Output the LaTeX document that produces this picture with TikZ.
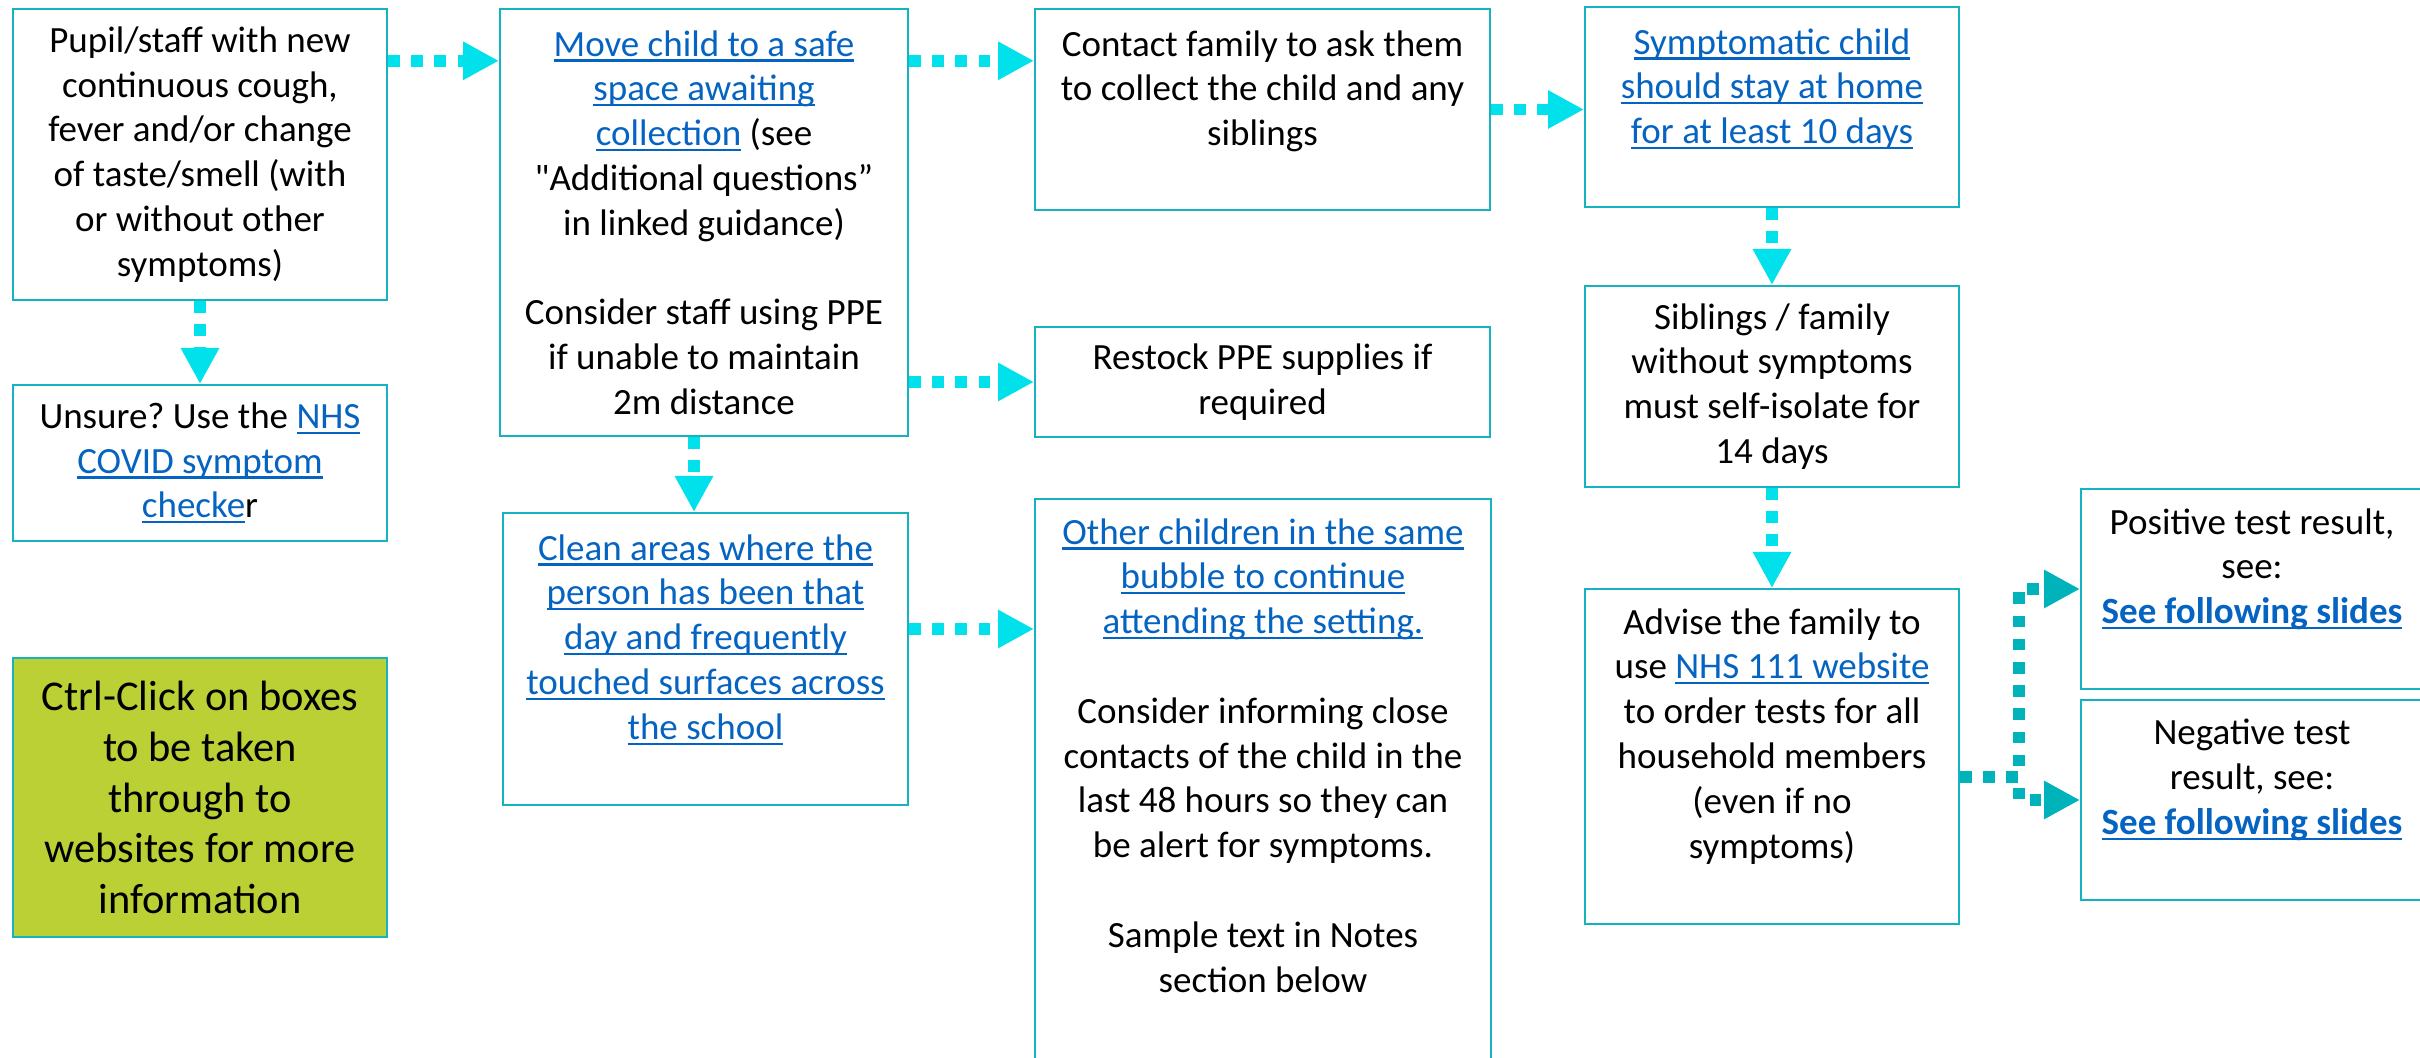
\documentclass[tikz,border=0pt]{standalone}
\usepackage{fontspec}
\setmainfont{Carlito}[Ligatures=TeXOff]
\usetikzlibrary{arrows.meta,positioning}
\definecolor{boxline}{RGB}{23,178,192}
\definecolor{arrowcyan}{RGB}{0,225,235}
\definecolor{arrowteal}{RGB}{0,178,186}
\definecolor{linkblue}{RGB}{5,99,193}
\definecolor{notegreen}{RGB}{187,208,52}
\newsavebox{\lnkbox}
\newcommand{\lnk}[1]{\sbox{\lnkbox}{#1}\textcolor{linkblue}{\rlap{\rule[-2.8pt]{\wd\lnkbox}{1.1pt}}#1}}
\frenchspacing

\begin{document}
\begin{tikzpicture}[x=0.5pt,y=-0.5pt,
    box/.style={draw=boxline,line width=1pt,anchor=north west,inner sep=0pt,align=center,
      font=\fontsize{18.5}{22.4}\selectfont},
    txt/.style={inner sep=0pt,align=center,font=\fontsize{18.5}{22.4}\selectfont},
    flow/.style={draw=arrowcyan,line width=5.8pt,dash pattern=on 5.8pt off 5.8pt,
      -{Triangle[length=18pt,width=18pt]}},
    flowdark/.style={flow,draw=arrowteal}]
  \useasboundingbox (0,0) rectangle (2420,1058);
  \clip (0,0) rectangle (2420,1058);

  % left column
  \node[box,minimum width=187pt,minimum height=145.5pt] (pupil) at (12,8)
    {Pupil/staff with new\\continuous cough,\\fever and/or change\\of taste/smell (with\\or without other\\symptoms)};
  \node[box,minimum width=187pt,minimum height=78pt] (unsure) at (12,384)
    {Unsure? Use the \lnk{NHS}\\\lnk{COVID symptom}\\\lnk{checke}r};
  \node[box,fill=notegreen,minimum width=187pt,minimum height=139.5pt,
    font=\fontsize{21.2}{25.3}\selectfont] (note) at (12,657)
    {Ctrl-Click on boxes\\to be taken\\through to\\websites for more\\information};

  % second column
  \node[box,minimum width=204pt,minimum height=213.5pt] (move) at (499,8)
    {\lnk{Move child to a safe}\\\lnk{space awaiting}\\\lnk{collection} (see\\"Additional questions”\\in linked guidance)\\~\\Consider staff using PPE\\if unable to maintain\\2m distance};
  \node[box,minimum width=202.5pt,minimum height=146pt] (clean) at (502,512) {};
  \node[txt,below=11pt of clean.north] (clean-t)
    {\lnk{Clean areas where the}\\\lnk{person has been that}\\\lnk{day and frequently}\\\lnk{touched surfaces across}\\\lnk{the school}};

  % third column
  \node[box,minimum width=227.5pt,minimum height=100.5pt] (contact) at (1034,8) {};
  \node[txt,below=11pt of contact.north] (contact-t)
    {Contact family to ask them\\to collect the child and any\\siblings};
  \node[box,minimum width=227.5pt,minimum height=55pt] (restock) at (1034,326)
    {Restock PPE supplies if\\required};
  \node[box,minimum width=228pt,minimum height=290pt] (other) at (1034,498) {};
  \node[txt,below=10pt of other.north] (other-t)
    {\lnk{Other children in the same}\\\lnk{bubble to continue}\\\lnk{attending the setting.}\\~\\Consider informing close\\contacts of the child in the\\last 48 hours so they can\\be alert for symptoms.\\~\\Sample text in Notes\\section below};

  % fourth column
  \node[box,minimum width=187pt,minimum height=100pt] (symptomatic) at (1584,6) {};
  \node[txt,below=11pt of symptomatic.north] (symptomatic-t)
    {\lnk{Symptomatic child}\\\lnk{should stay at home}\\\lnk{for at least 10 days}};
  \node[box,minimum width=187pt,minimum height=100.5pt] (siblings) at (1584,285)
    {Siblings / family\\without symptoms\\must self-isolate for\\14 days};
  \node[box,minimum width=187pt,minimum height=167.5pt] (advise) at (1584,588) {};
  \node[txt,below=10pt of advise.north] (advise-t)
    {Advise the family to\\use \lnk{NHS 111 website}\\to order tests for all\\household members\\(even if no\\symptoms)};

  % results
  \node[box,minimum width=171pt,minimum height=100pt] (positive) at (2080,488) {};
  \node[txt,below=10pt of positive.north] (positive-t)
    {Positive test result,\\see:\\\textbf{\lnk{See following slides}}};
  \node[box,minimum width=171pt,minimum height=100pt] (negative) at (2080,699) {};
  \node[txt,below=10pt of negative.north] (negative-t)
    {Negative test\\result, see:\\\textbf{\lnk{See following slides}}};

  % connectors
  \coordinate (p2m) at ([yshift=-26.4pt]pupil.north east);
  \coordinate (m2c) at ([xshift=-5pt]move.south);
  \coordinate (c2o) at ([yshift=-58.5pt]clean.north east);
  \coordinate (split) at (2019,777);
  \draw[flow] (p2m) -- (p2m -| move.west);
  \draw[flow] (pupil.south) -- (unsure.north);
  \draw[flow] (p2m -| move.east) -- (p2m -| contact.west);
  \draw[flow] (restock.west -| move.east) -- (restock.west);
  \draw[flow] (m2c) -- (m2c |- clean.north);
  \draw[flow] (c2o) -- (c2o -| other.west);
  \draw[flow] (contact.east) -- (contact.east -| symptomatic.west);
  \draw[flow] (symptomatic.south) -- (siblings.north);
  \draw[flow] (siblings.south) -- (advise.north);
  \draw[flowdark] (advise.east |- split) -- (split) |- (positive.west);
  \draw[flowdark] (advise.east |- split) -- (split) |- (negative.west);
\end{tikzpicture}
\end{document}
